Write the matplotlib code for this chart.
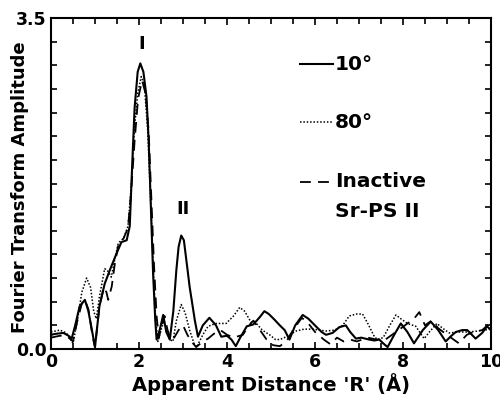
import matplotlib
matplotlib.use('Agg')
import matplotlib.pyplot as plt
from matplotlib.ticker import MultipleLocator, FixedLocator, FuncFormatter

plt.rcParams['font.family'] = ['DejaVu Sans']
plt.rcParams['font.weight'] = 'bold'

# 10 degree (solid)
r_10 = [0.0, 0.1, 0.28, 0.4, 0.47, 0.55, 0.65, 0.77, 0.85, 0.93, 1.0, 1.1, 1.22, 1.35, 1.49,
        1.6, 1.72, 1.79, 1.85, 1.9, 1.97, 2.03, 2.1, 2.17, 2.22, 2.27, 2.32, 2.37, 2.4, 2.47,
        2.55, 2.62, 2.7, 2.78, 2.85, 2.9, 2.96, 3.02, 3.1, 3.15, 3.27, 3.34, 3.45, 3.6, 3.75,
        3.87, 4.0, 4.1, 4.2, 4.3, 4.45, 4.6, 4.75, 4.85, 4.95, 5.08, 5.2, 5.31, 5.42, 5.55,
        5.72, 5.85, 6.02, 6.15, 6.25, 6.4, 6.55, 6.7, 6.8, 6.93, 7.05, 7.23, 7.35, 7.46,
        7.55, 7.65, 7.8, 7.95, 8.1, 8.25, 8.45, 8.63, 8.8, 8.97, 9.1, 9.2, 9.35, 9.46, 9.65,
        9.8, 9.91, 10.0]
a_10 = [0.15, 0.16, 0.17, 0.14, 0.11, 0.25, 0.45, 0.52, 0.4, 0.2, 0.02, 0.45, 0.69, 0.85, 1.01,
        1.13, 1.15, 1.3, 2.0, 2.55, 2.93, 3.02, 2.93, 2.67, 2.2, 1.5, 0.8, 0.3, 0.1, 0.2,
        0.36, 0.18, 0.1, 0.4, 0.84, 1.08, 1.2, 1.15, 0.85, 0.66, 0.3, 0.13, 0.25, 0.33, 0.25,
        0.13, 0.14, 0.1, 0.03, 0.12, 0.24, 0.26, 0.34, 0.4, 0.37, 0.31, 0.25, 0.2, 0.1, 0.25,
        0.36, 0.32, 0.24, 0.18, 0.15, 0.17, 0.23, 0.25, 0.18, 0.11, 0.12, 0.1, 0.09, 0.1,
        0.06, 0.02, 0.15, 0.27, 0.18, 0.06, 0.2, 0.29, 0.2, 0.08, 0.14, 0.18, 0.2, 0.2, 0.11,
        0.17, 0.24, 0.2]

# 80 degree (dotted)
r_80 = [0.0, 0.2, 0.35, 0.5, 0.6, 0.7, 0.81, 0.9, 0.97, 1.03, 1.1, 1.22, 1.3, 1.37, 1.45,
        1.53, 1.65, 1.75, 1.82, 1.9, 1.97, 2.05, 2.12, 2.2, 2.27, 2.33, 2.38, 2.43, 2.5, 2.57,
        2.63, 2.7, 2.77, 2.85, 2.96, 3.05, 3.15, 3.25, 3.31, 3.45, 3.57, 3.75, 3.98, 4.15,
        4.29, 4.4, 4.55, 4.65, 4.8, 4.97, 5.1, 5.2, 5.35, 5.57, 5.75, 5.95, 6.1, 6.25, 6.45,
        6.63, 6.78, 6.95, 7.08, 7.2, 7.35, 7.42, 7.55, 7.7, 7.84, 7.95, 8.1, 8.29, 8.48, 8.6,
        8.77, 8.9, 9.05, 9.3, 9.5, 9.7, 9.85, 10.0]
a_80 = [0.18, 0.2, 0.17, 0.06, 0.3, 0.6, 0.75, 0.65, 0.4, 0.32, 0.55, 0.85, 0.82, 0.76, 0.95,
        1.12, 1.17, 1.3, 1.7, 2.35, 2.7, 2.88, 2.8, 2.3, 1.5, 0.8, 0.3, 0.08, 0.2, 0.3,
        0.2, 0.1, 0.08, 0.3, 0.47, 0.38, 0.2, 0.06, 0.02, 0.15, 0.24, 0.27, 0.27, 0.35,
        0.44, 0.4, 0.28, 0.28, 0.2, 0.15, 0.1, 0.1, 0.13, 0.19, 0.21, 0.21, 0.2, 0.19, 0.2,
        0.25, 0.35, 0.37, 0.37, 0.27, 0.13, 0.1, 0.12, 0.25, 0.36, 0.32, 0.27, 0.24, 0.11, 0.18,
        0.27, 0.22, 0.17, 0.18, 0.18, 0.19, 0.2, 0.21]

# Inactive Sr-PS II (dashed)
r_in = [0.0, 0.2, 0.35, 0.45, 0.5, 0.6, 0.7, 0.77, 0.85, 0.95, 1.0, 1.1, 1.2, 1.26, 1.3, 1.38,
        1.45, 1.53, 1.65, 1.75, 1.82, 1.9, 1.98, 2.07, 2.15, 2.22, 2.28, 2.34, 2.4, 2.45, 2.52,
        2.58, 2.65, 2.72, 2.8, 2.9, 3.0, 3.1, 3.19, 3.3, 3.45, 3.57, 3.7, 3.85, 4.0, 4.15,
        4.36, 4.5, 4.6, 4.75, 4.9, 5.05, 5.2, 5.35, 5.5, 5.7, 5.85, 6.0, 6.2, 6.35, 6.5, 6.65,
        6.8, 6.95, 7.2, 7.4, 7.6, 7.75, 7.9, 8.1, 8.25, 8.37, 8.5, 8.65, 8.8, 9.0, 9.15, 9.27,
        9.45, 9.6, 9.8, 9.92, 10.0]
a_in = [0.12, 0.14, 0.14, 0.1, 0.08, 0.3, 0.48, 0.52, 0.42, 0.12, 0.02, 0.45, 0.65, 0.6, 0.52, 0.66,
        0.9, 1.1, 1.17, 1.28, 1.65, 2.2, 2.65, 2.84, 2.7, 2.3, 1.6, 0.9, 0.35, 0.12, 0.25,
        0.35, 0.2, 0.1, 0.12, 0.2, 0.25, 0.15, 0.08, 0.02, 0.08, 0.11, 0.16, 0.2, 0.15, 0.12,
        0.15, 0.25, 0.3, 0.2, 0.1, 0.04, 0.03, 0.08, 0.2, 0.33, 0.27, 0.18, 0.1, 0.05, 0.12, 0.08,
        0.1, 0.08, 0.12, 0.1, 0.1, 0.15, 0.2, 0.27, 0.32, 0.39, 0.25, 0.3, 0.22, 0.15, 0.1, 0.06,
        0.15, 0.18, 0.2, 0.25, 0.2]

fig = plt.figure(figsize=(5, 4), dpi=100)
ax = fig.add_axes([0.102, 0.1275, 0.88, 0.8275])

ax.plot(r_10, a_10, color='black', lw=1.5, linestyle='-')
ax.plot(r_80, a_80, color='black', lw=1.1, linestyle=(0, (1, 1.2)))
ax.plot(r_in, a_in, color='black', lw=1.3, linestyle=(0, (6, 4)))

ax.set_xlim(0, 10)
ax.set_ylim(0, 3.5)
ax.xaxis.set_major_locator(MultipleLocator(2))
ax.xaxis.set_minor_locator(MultipleLocator(0.5))
ax.yaxis.set_major_locator(FixedLocator([0.0, 3.5]))
ax.yaxis.set_minor_locator(MultipleLocator(0.25))
ax.yaxis.set_major_formatter(FuncFormatter(lambda v, p: '%.1f' % v))
ax.tick_params(which='both', direction='in', top=True, right=True, width=1.2)
ax.tick_params(which='major', length=5, labelsize=12.5, pad=3)
ax.tick_params(which='minor', length=4)
for lab in ax.get_xticklabels() + ax.get_yticklabels():
    lab.set_fontweight('bold')
for sp in ax.spines.values():
    sp.set_linewidth(1.5)

ax.set_xlabel("Apparent Distance 'R' (Å)", fontsize=14, fontweight='bold')
ax.xaxis.set_label_coords(0.5, -0.072)
ax.set_ylabel('Fourier Transform Amplitude', fontsize=13, fontweight='bold')
ax.yaxis.set_label_coords(-0.05, 0.49)

# peak labels
ax.text(2.05, 3.22, 'I', ha='center', va='center', fontsize=13, fontweight='bold')
ax.text(3.0, 1.48, 'II', ha='center', va='center', fontsize=13, fontweight='bold')

# hand-drawn legend
ax.plot([5.65, 6.4], [3.01, 3.01], color='black', lw=1.5)
ax.text(6.45, 3.01, '10°', va='center', fontsize=14.5, fontweight='bold')
ax.plot([5.65, 6.4], [2.4, 2.4], color='black', lw=1.1, linestyle=(0, (1, 1.2)))
ax.text(6.45, 2.4, '80°', va='center', fontsize=14.5, fontweight='bold')
ax.plot([5.65, 6.4], [1.77, 1.77], color='black', lw=1.3, linestyle=(0, (6, 4)))
ax.text(6.45, 1.77, 'Inactive', va='center', fontsize=14.5, fontweight='bold')
ax.text(6.45, 1.45, 'Sr-PS II', va='center', fontsize=14.5, fontweight='bold')

fig.savefig('out.png', dpi=100)
